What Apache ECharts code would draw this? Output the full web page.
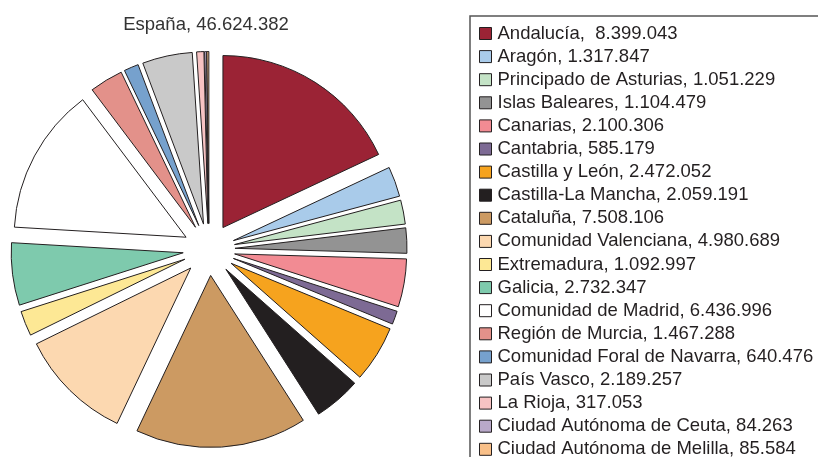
<!DOCTYPE html>
<html>
<head>
<meta charset="utf-8">
<script src="https://cdn.jsdelivr.net/npm/echarts@6/dist/echarts.min.js"></script>
<style>
  html, body { margin: 0; padding: 0; background: #fff; }
  #chart { width: 818px; height: 457px; }
</style>
</head>
<body>
<div id="chart"></div>
<script>
// Comunidades autonomas, poblacion
const comunidades = [
  'Andalucía', 'Aragón', 'Principado de Asturias', 'Islas Baleares', 'Canarias',
  'Cantabria', 'Castilla y León', 'Castilla-La Mancha', 'Cataluña',
  'Comunidad Valenciana', 'Extremadura', 'Galicia', 'Comunidad de Madrid',
  'Región de Murcia', 'Comunidad Foral de Navarra', 'País Vasco', 'La Rioja',
  'Ciudad Autónoma de Ceuta', 'Ciudad Autónoma de Melilla'
];
const poblacion = [
  8399043, 1317847, 1051229, 1104479, 2100306,
  585179, 2472052, 2059191, 7508106,
  4980689, 1092997, 2732347, 6436996,
  1467288, 640476, 2189257, 317053,
  84263, 85584
];
const colores = [
  '#9b2335', '#a9cbea', '#c4e3c6', '#939393', '#f28b93',
  '#7d6a94', '#f6a31e', '#231f20', '#cc9a62',
  '#fcd8b0', '#fde895', '#7ecaad', '#ffffff',
  '#e3918a', '#76a1cd', '#c9c9c9', '#f7c3c3',
  '#b9a9c9', '#f9c089'
];

const puntos = function (v) {
  return String(v).replace(/\B(?=(\d{3})+(?!\d))/g, '.');
};

const total = poblacion.reduce((a, b) => a + b, 0);
const valorPorNombre = {};
comunidades.forEach((c, i) => { valorPorNombre[c] = poblacion[i]; });

const borde = { borderColor: '#231f20', borderWidth: 1 };

var myChart = echarts.init(document.getElementById('chart'));
var option = {
  animation: false,
  textStyle: { fontFamily: 'Liberation Sans, Arial, sans-serif' },
  title: {
    text: 'España, ' + puntos(total),
    left: 201,
    top: 10,
    textAlign: 'center',
    textStyle: { fontSize: 18.5, fontWeight: 'normal', color: '#333' }
  },
  graphic: [{
    type: 'rect',
    shape: { x: 470, y: 16, width: 400, height: 500 },
    style: { fill: 'none', stroke: '#555', lineWidth: 1.5 },
    z: -1
  }],
  legend: {
    orient: 'vertical',
    left: 479,
    top: 23.5,
    height: 600,
    padding: 0,
    itemGap: 3.1,
    itemWidth: 12,
    itemHeight: 12,
    icon: 'rect',
    selectedMode: false,
    itemStyle: borde,
    textStyle: { fontSize: 18.5, color: '#231f20', lineHeight: 20, padding: [0, 0, 0, 1] },
    formatter: function (name) {
      const sep = name === 'Andalucía' ? ',  ' : ', ';
      return name + sep + puntos(valorPorNombre[name]);
    },
    data: comunidades
  },
  series: [{
    type: 'pie',
    center: [209, 249.5],
    radius: [0, 172],
    startAngle: 90,
    clockwise: true,
    selectedMode: 'multiple',
    selectedOffset: 26,
    label: { show: false },
    labelLine: { show: false },
    itemStyle: borde,
    select: { itemStyle: borde },
    emphasis: { disabled: true },
    data: comunidades.map((c, i) => ({
      name: c,
      value: poblacion[i],
      selected: true,
      itemStyle: { color: colores[i] }
    }))
  }]
};
myChart.setOption(option);
</script>
</body>
</html>
